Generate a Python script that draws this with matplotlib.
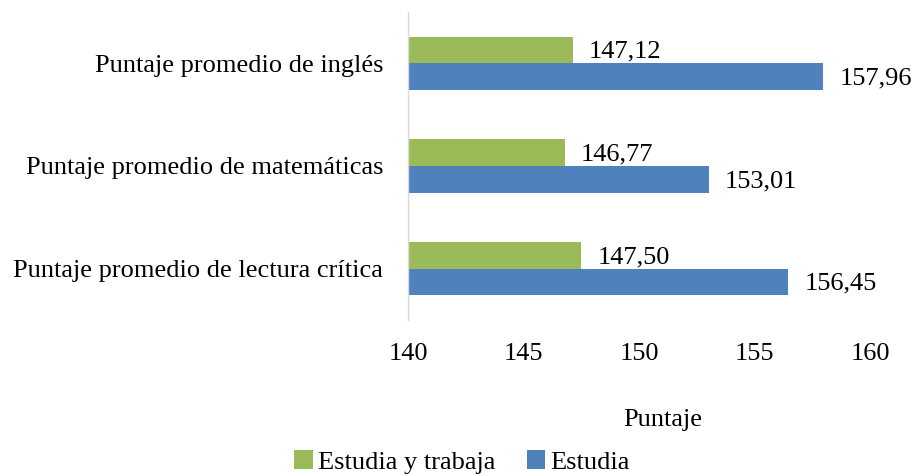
import matplotlib
matplotlib.use('Agg')
import matplotlib.pyplot as plt
import numpy as np

categories = ['Puntaje promedio de inglés',
              'Puntaje promedio de matemáticas',
              'Puntaje promedio de lectura crítica']
estudia_trabaja = [147.12, 146.77, 147.50]
estudia = [157.96, 153.01, 156.45]
series_names = ['Estudia y trabaja', 'Estudia']
xticks = [140, 145, 150, 155, 160]

GREEN = '#9BBB59'
BLUE = '#4F81BD'
FS = 19

plt.rcParams['font.family'] = ['Liberation Serif', 'DejaVu Serif']

fig = plt.figure(figsize=(9.15, 4.76), dpi=100)
ax = fig.add_axes([0.446, 0.328, 0.505, 0.647])

y = np.arange(len(categories))
h = 0.26
b1 = ax.barh(y - h / 2, [v - 140 for v in estudia_trabaja], height=h, left=140,
             color=GREEN, label=series_names[0])
b2 = ax.barh(y + h / 2, [v - 140 for v in estudia], height=h, left=140,
             color=BLUE, label=series_names[1])

for bars, vals in ((b1, estudia_trabaja), (b2, estudia)):
    for bar, v in zip(bars, vals):
        ax.text(v + 0.7, bar.get_y() + bar.get_height() / 2 + 0.02,
                f'{v:.2f}'.replace('.', ','), va='center', ha='left', fontsize=FS)

ax.set_xlim(140, 160)
ax.set_ylim(2.5, -0.5)
ax.set_xticks(xticks)
ax.set_xticklabels([str(t) for t in xticks], fontsize=FS)
ax.set_yticks(y)
ax.set_yticklabels(categories, fontsize=FS)
ax.tick_params(axis='both', length=0)
ax.tick_params(axis='x', pad=17)
ax.tick_params(axis='y', pad=18)

for s in ('top', 'right', 'bottom'):
    ax.spines[s].set_visible(False)
ax.spines['left'].set_color('#D9D9D9')
ax.spines['left'].set_linewidth(1.0)

ax.set_xlabel('Puntaje', fontsize=FS)
ax.xaxis.set_label_coords(0.55, -0.29)

fig.legend(handles=[b1, b2], labels=series_names, loc='lower center',
           bbox_to_anchor=(0.505, -0.045), ncol=2, frameon=False, fontsize=FS,
           handlelength=0.7, handleheight=0.7, handletextpad=0.2,
           columnspacing=1.2)

fig.savefig('out.png', dpi=100)
